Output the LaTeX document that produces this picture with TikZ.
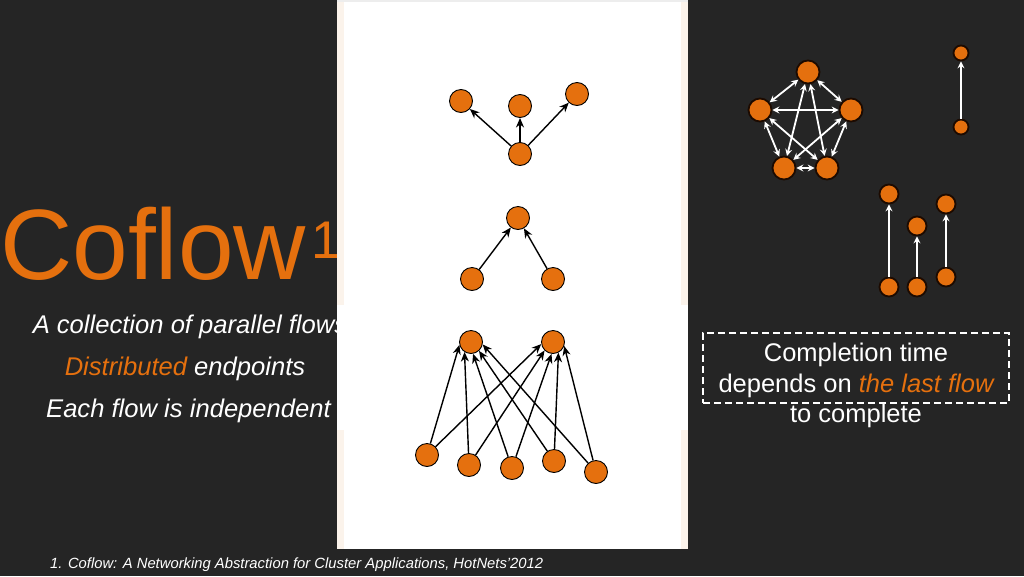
\documentclass[tikz,border=0pt]{standalone}
\usepackage{fontspec}
\setmainfont{Liberation Sans}
\usetikzlibrary{arrows.meta}
\definecolor{bgdark}{RGB}{37,37,37}
\definecolor{cforange}{RGB}{229,112,14}
\definecolor{cream}{RGB}{251,243,235}
\definecolor{rimdark}{RGB}{28,10,0}
\begin{document}
\begin{tikzpicture}[x=1pt,y=-1pt,
  pnode/.style={circle,draw=black,line width=0.9pt,fill=cforange,minimum size=23pt,inner sep=0pt},
  rnode/.style={circle,draw=rimdark,line width=1.8pt,fill=cforange,minimum size=#1,inner sep=0pt},
  rnode/.default=23pt,
  parrow/.style={-{Stealth[length=9.5pt,width=8pt,inset=3pt]},line width=1.4pt,draw=black},
  warrow/.style={{Stealth[length=7pt,width=7pt,inset=2.5pt]}-{Stealth[length=7pt,width=7pt,inset=2.5pt]},line width=1.8pt,draw=white},
  wsingle/.style={-{Stealth[length=7pt,width=7pt,inset=2.5pt]},line width=2pt,draw=white},
  lefttext/.style={anchor=base,inner sep=0pt,text=white,font=\fontsize{25.6}{30}\selectfont\itshape},
  boxtext/.style={anchor=base,inner sep=0pt,text=white,font=\fontsize{25.5}{30}\selectfont}
]
\useasboundingbox (0,0) rectangle (1024,576);
\fill[bgdark] (0,0) rectangle (1024,576);

% Title and left text
\node[anchor=base west,inner sep=0pt,text=cforange,font=\fontsize{100}{110}\selectfont] (title) at (0,279)
  {Coflow\hspace{6pt}\raisebox{21pt}{\fontsize{53}{53}\selectfont 1}};
\node[lefttext] (l1) at (190,333) {A collection of parallel flows};
\node[lefttext] (l2) at (185,375) {\textcolor{cforange}{Distributed} endpoints};
\node[lefttext] (l3) at (188.5,417) {Each flow is independent};

% White panel
\fill[white] (337,0) rectangle (688,549);
\fill[cream] (337,0) rectangle (344,305);
\fill[cream] (681,0) rectangle (688,305);
\fill[cream] (337,430) rectangle (344,549);
\fill[cream] (681,430) rectangle (688,549);
\fill[black!7] (337,0) rectangle (688,1.5);

% Graph 1: one to many
\node[pnode] (a1) at (461,101) {};
\node[pnode] (a2) at (520,106) {};
\node[pnode] (a3) at (577,94) {};
\node[pnode] (as) at (520,154) {};
\draw[parrow] (as) -- (a1);
\draw[parrow] (as) -- (a2);
\draw[parrow] (as) -- (a3);

% Graph 2: many to one
\node[pnode] (b0) at (518,218) {};
\node[pnode] (b1) at (472,279) {};
\node[pnode] (b2) at (553,279) {};
\draw[parrow] (b1) -- (b0);
\draw[parrow] (b2) -- (b0);

% Graph 3: many to many
\node[pnode] (t1) at (471,342) {};
\node[pnode] (t2) at (553,342) {};
\node[pnode] (s1) at (427,455) {};
\node[pnode] (s2) at (469,465) {};
\node[pnode] (s3) at (512,468) {};
\node[pnode] (s4) at (554,461) {};
\node[pnode] (s5) at (596,472) {};
\draw[parrow] (s1) -- (t1.194);
\draw[parrow] (s2) -- (t1.237);
\draw[parrow] (s3) -- (t1.280);
\draw[parrow] (s4) -- (t1.312);
\draw[parrow] (s5) -- (t1.348);
\draw[parrow] (s1) -- (t2.190);
\draw[parrow] (s2) -- (t2.225);
\draw[parrow] (s3) -- (t2.263);
\draw[parrow] (s4) -- (t2.297);
\draw[parrow] (s5) -- (t2.340);

% Right: pentagon (all-to-all)
\node[rnode] (p1) at (808,72) {};
\node[rnode] (p2) at (760,110) {};
\node[rnode] (p3) at (851,110) {};
\node[rnode] (p4) at (784,168) {};
\node[rnode] (p5) at (827,168) {};
\draw[warrow] (p1) -- (p2);
\draw[warrow] (p1) -- (p3);
\draw[warrow] (p2) -- (p3);
\draw[warrow] (p1) -- (p4);
\draw[warrow] (p1) -- (p5);
\draw[warrow] (p2) -- (p4);
\draw[warrow] (p2) -- (p5);
\draw[warrow] (p3) -- (p4);
\draw[warrow] (p3) -- (p5);
\draw[warrow] (p4) -- (p5);

% Right: single flow
\node[rnode=15pt] (q1) at (961,53) {};
\node[rnode=15pt] (q2) at (961,127) {};
\draw[wsingle] (q2) -- (q1);

% Right: parallel flows
\node[rnode=19pt] (f1t) at (889,194) {};
\node[rnode=19pt] (f1b) at (889,287) {};
\node[rnode=19pt] (f2t) at (917,226) {};
\node[rnode=19pt] (f2b) at (917,287) {};
\node[rnode=19pt] (f3t) at (946,204) {};
\node[rnode=19pt] (f3b) at (946,277) {};
\draw[wsingle] (f1b) -- (f1t);
\draw[wsingle] (f2b) -- (f2t);
\draw[wsingle] (f3b) -- (f3t);

% Dashed box
\node[draw=white,dashed,dash pattern=on 7pt off 4pt,line width=1.5pt,minimum width=306pt,minimum height=70pt,inner sep=0pt] (box) at (856,368) {};
\node[boxtext] (c1) at (856,361) {Completion time};
\node[boxtext] (c2) at (856,392) {depends on \textcolor{cforange}{\itshape the last flow}};
\node[boxtext] (c3) at (856,422) {to complete};

% Footer
\node[anchor=base west,inner sep=0pt,text=white,font=\fontsize{14.8}{17}\selectfont\itshape] (foot) at (50,568)
  {1. Coflow: A Networking Abstraction for Cluster Applications, HotNets’2012};
\end{tikzpicture}
\end{document}
